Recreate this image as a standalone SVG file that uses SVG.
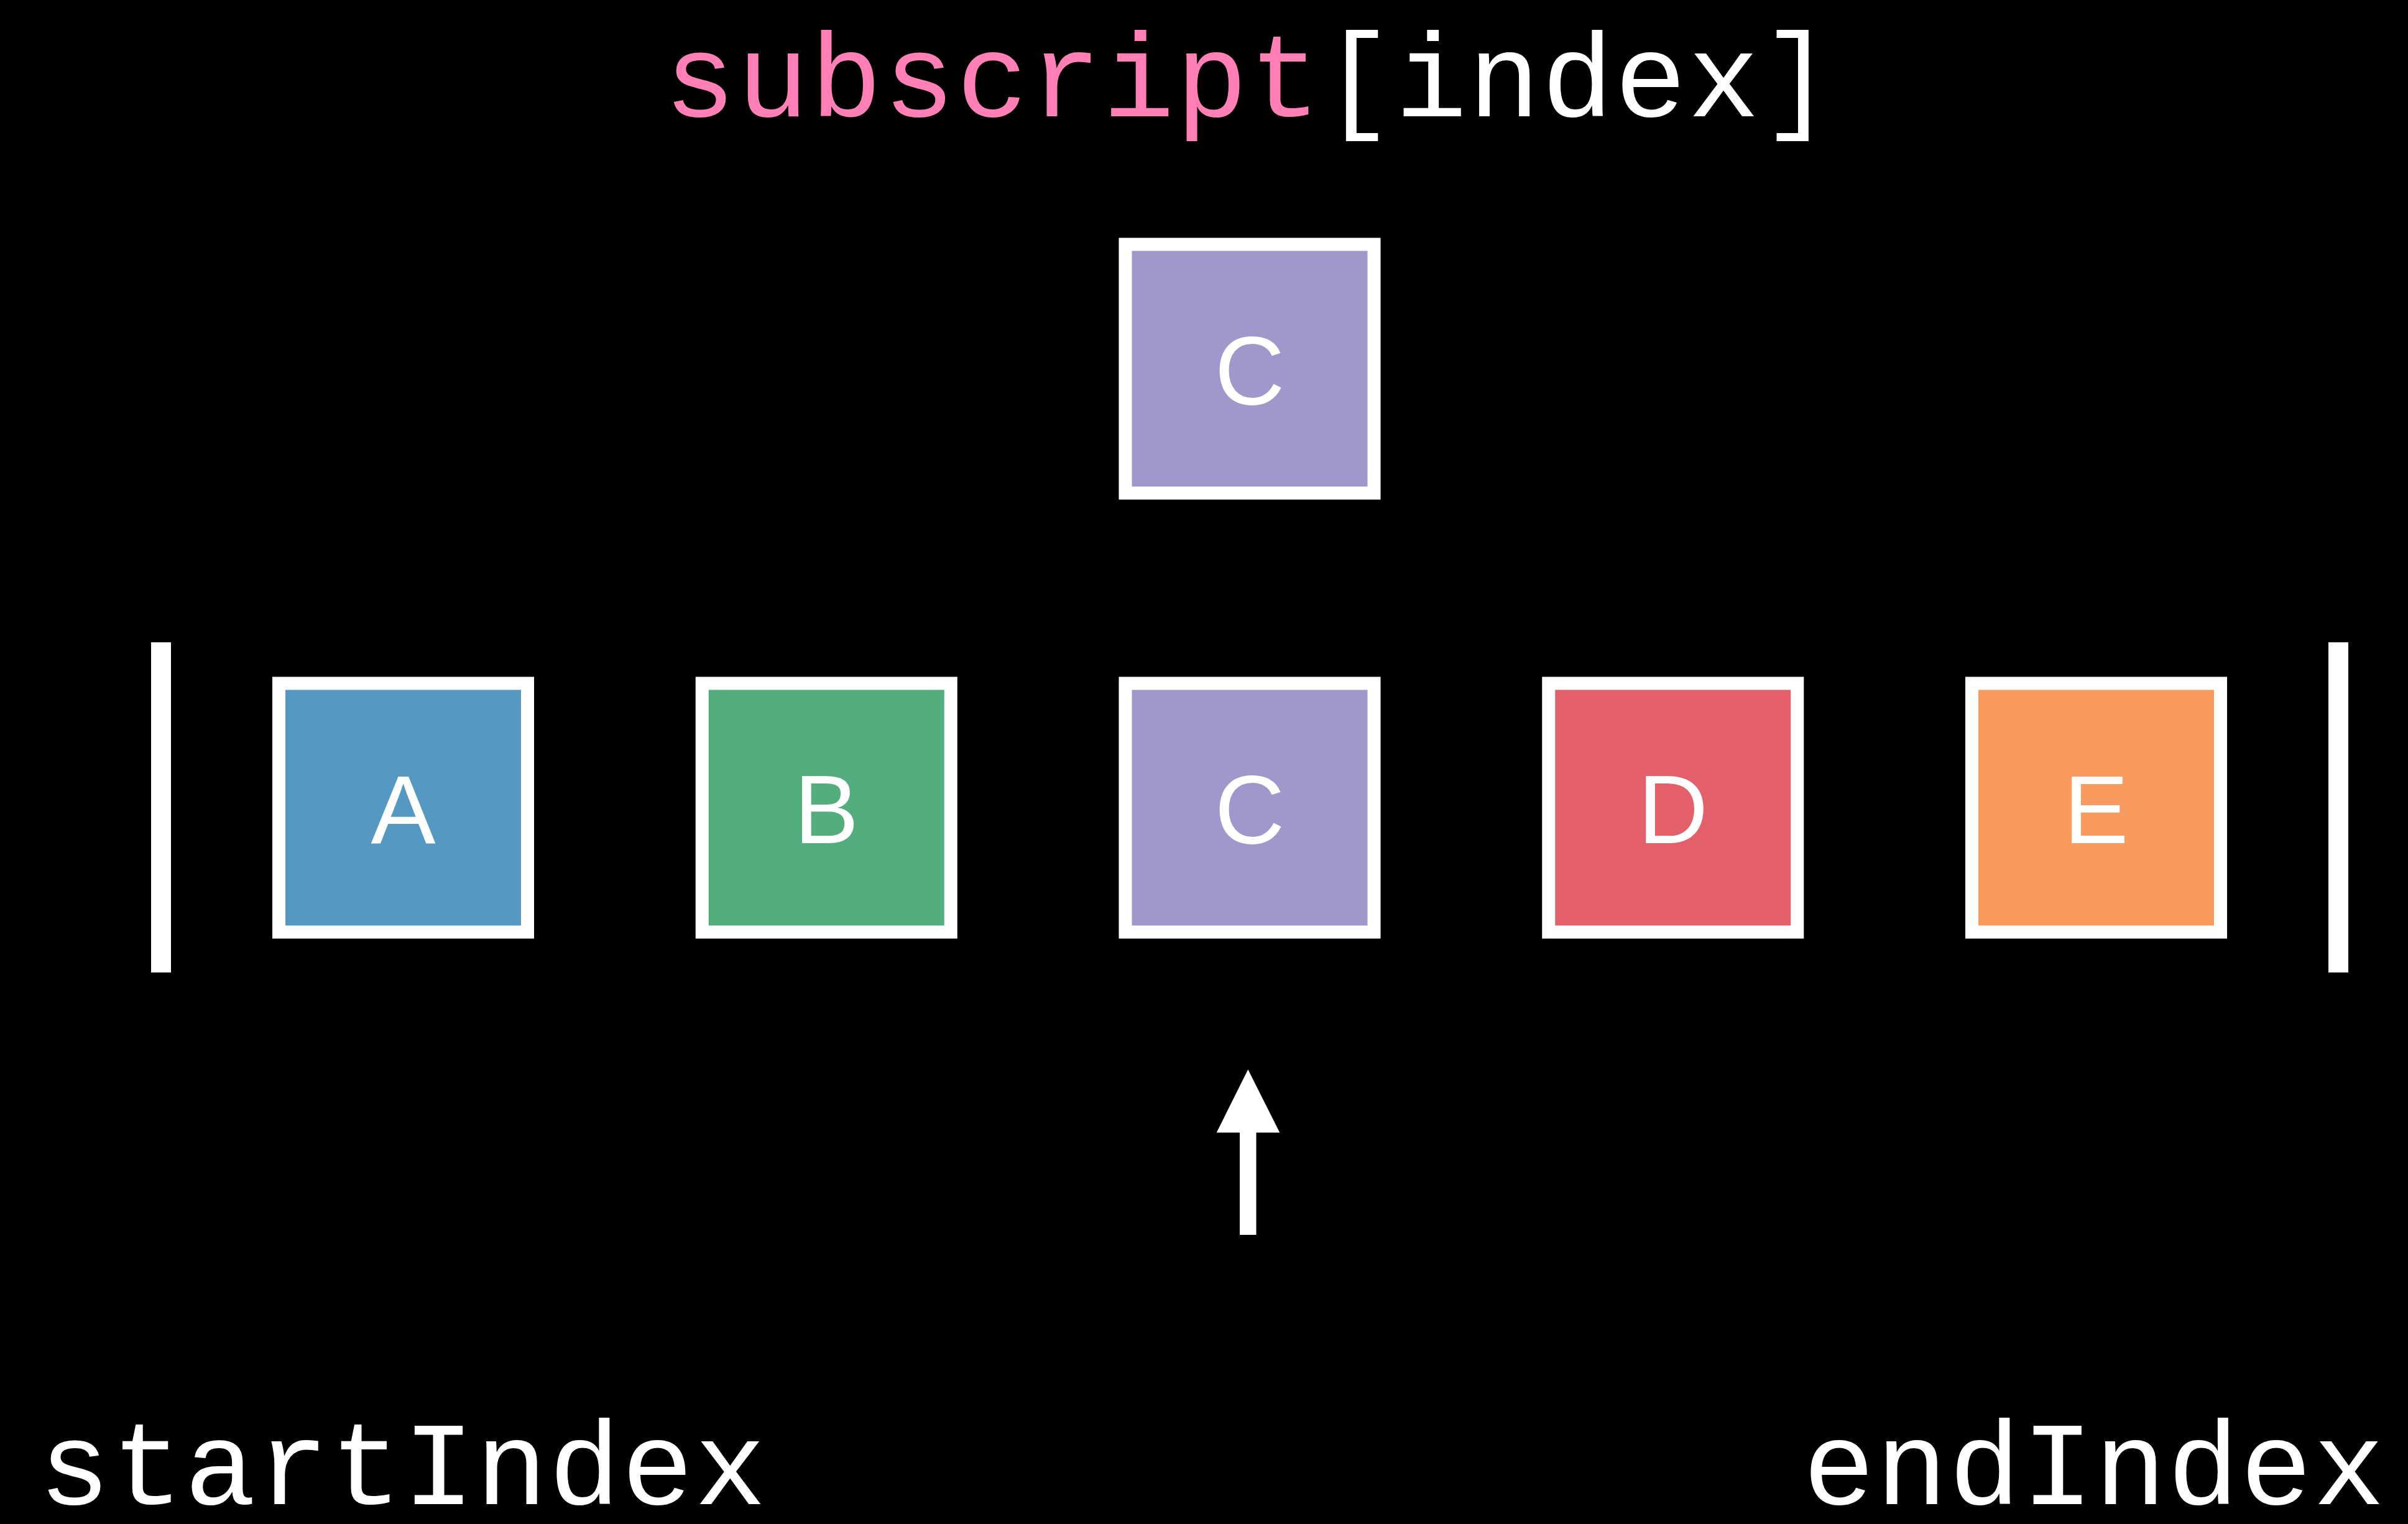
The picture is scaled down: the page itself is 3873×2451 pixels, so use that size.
<svg xmlns="http://www.w3.org/2000/svg" width="3873" height="2451" viewBox="0 0 3873 2451">
  <style>
    .box { stroke: #ffffff; stroke-width: 21; }
    .letter { font-family: "Liberation Sans", Arial, sans-serif; font-size: 156px; fill: #ffffff; text-anchor: middle; }
    .code { font-family: "Liberation Mono", "DejaVu Sans Mono", monospace; font-size: 192px; fill: #ffffff; letter-spacing: 2.4px; }
    .kw { fill: #ff7fb6; }
    .bar { fill: #ffffff; }
  </style>
  <rect x="0" y="0" width="3873" height="2451" fill="#000000"/>

  <!-- title -->
  <text id="title" class="code" x="1068" y="187"><tspan class="kw">subscript</tspan>[index]</text>

  <!-- bounds markers -->
  <rect id="start-bar" class="bar" x="243" y="1033" width="32" height="531"/>
  <rect id="end-bar" class="bar" x="3745" y="1033" width="32" height="531"/>

  <!-- selected element -->
  <g id="node-result">
    <rect class="box" x="1810" y="393" width="400" height="400" fill="#a098cb"/>
    <text class="letter" x="2010" y="650">C</text>
  </g>

  <!-- collection elements -->
  <g id="node-a">
    <rect class="box" x="448.5" y="1099" width="400" height="400" fill="#5598c1"/>
    <text class="letter" x="648.5" y="1356">A</text>
  </g>
  <g id="node-b">
    <rect class="box" x="1129.25" y="1099" width="400" height="400" fill="#54ad7c"/>
    <text class="letter" x="1329.25" y="1356">B</text>
  </g>
  <g id="node-c">
    <rect class="box" x="1810" y="1099" width="400" height="400" fill="#a098cb"/>
    <text class="letter" x="2010" y="1356">C</text>
  </g>
  <g id="node-d">
    <rect class="box" x="2490.75" y="1099" width="400" height="400" fill="#e3606b"/>
    <text class="letter" x="2690.75" y="1356">D</text>
  </g>
  <g id="node-e">
    <rect class="box" x="3171.5" y="1099" width="400" height="400" fill="#f99a5f"/>
    <text class="letter" x="3371.5" y="1356">E</text>
  </g>

  <!-- index pointer -->
  <g id="connectors">
    <rect x="1994" y="1820" width="26.5" height="166" fill="#ffffff"/>
    <polygon points="2007.3,1720 2058.3,1821.5 1956.7,1821.5" fill="#ffffff"/>
  </g>

  <!-- index labels -->
  <text id="start-label" class="code" x="62" y="2419" style="letter-spacing:2px">startIndex</text>
  <text id="end-label" class="code" x="2900" y="2419" style="letter-spacing:2px">endIndex</text>
</svg>
